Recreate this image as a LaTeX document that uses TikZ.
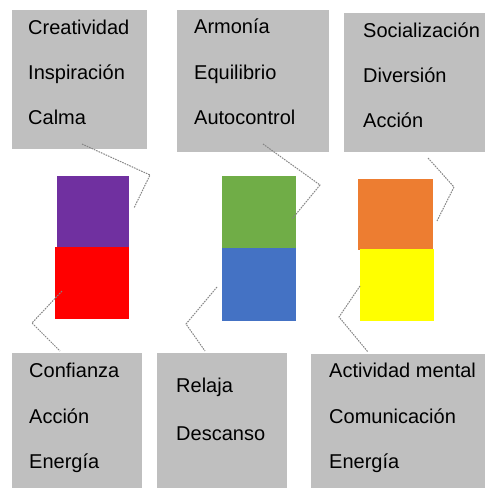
\documentclass[tikz,border=0pt]{standalone}
\usepackage{fontspec}
\setmainfont{Liberation Sans}
\definecolor{boxgray}{HTML}{BFBFBF}
\definecolor{cpurple}{HTML}{7030A0}
\definecolor{cred}{HTML}{FF0000}
\definecolor{cgreen}{HTML}{70AD47}
\definecolor{cblue}{HTML}{4472C4}
\definecolor{corange}{HTML}{ED7D31}
\definecolor{cyellow}{HTML}{FFFF00}
\definecolor{linkgray}{HTML}{858585}
\tikzset{
  graybox/.style={fill=boxgray, draw=none},
  swatch/.style={draw=none},
  word/.style={anchor=base west, inner sep=0pt, font=\fontsize{20}{23}\selectfont, text=black},
  link/.style={draw=linkgray, line width=1pt, dash pattern=on 1.6pt off 1pt}
}
\begin{document}
\begin{tikzpicture}[x=1pt,y=-1pt]
\useasboundingbox (0,0) rectangle (485,489);
% top gray boxes
\fill[graybox] (12,10) rectangle (147,149);
\fill[graybox] (177,10) rectangle (329,152);
\fill[graybox] (344,13) rectangle (485,152);
% bottom gray boxes
\fill[graybox] (12,353) rectangle (142,488);
\fill[graybox] (157,353) rectangle (287,488);
\fill[graybox] (311,354) rectangle (485,488);
% colour squares
\fill[cpurple] (57,176) rectangle (129,247);
\fill[cred] (55,247) rectangle (129,319);
\fill[cgreen] (222,176) rectangle (296,248);
\fill[cblue] (222,248) rectangle (296,321);
\fill[corange] (358,179) rectangle (433,250);
\fill[cyellow] (360,249) rectangle (434,321);
% texts
\node[word] (t1a) at (28,35) {Creatividad};
\node[word] (t1b) at (28,80) {Inspiración};
\node[word] (t1c) at (28,125) {Calma};
\node[word] (t2a) at (194,34) {Armonía};
\node[word] (t2b) at (194,80) {Equilibrio};
\node[word] (t2c) at (194,125) {Autocontrol};
\node[word] (t3a) at (363,38) {Socialización};
\node[word] (t3b) at (363,83) {Diversión};
\node[word] (t3c) at (363,128) {Acción};
\node[word] (t4a) at (29,377) {Confianza};
\node[word] (t4b) at (29,423) {Acción};
\node[word] (t4c) at (29,468) {Energía};
\node[word] (t5a) at (176,392) {Relaja};
\node[word] (t5b) at (176,440) {Descanso};
\node[word] (t6a) at (329,377) {Actividad mental};
\node[word] (t6b) at (329,423) {Comunicación};
\node[word] (t6c) at (329,468) {Energía};
% connector points
\coordinate (a1) at (82,144); \coordinate (b1) at (150,175); \coordinate (c1) at (134,208);
\coordinate (a2) at (263,144); \coordinate (b2) at (320,185); \coordinate (c2) at (292,219);
\coordinate (a3) at (428,158); \coordinate (b3) at (454,187); \coordinate (c3) at (437,221);
\coordinate (a4) at (62,291); \coordinate (b4) at (32,323); \coordinate (c4) at (60,351);
\coordinate (a5) at (217,287); \coordinate (b5) at (186,324); \coordinate (c5) at (205,351);
\coordinate (a6) at (360,286); \coordinate (b6) at (339,317); \coordinate (c6) at (368,352);
\draw[link] (a1) -- (b1) -- (c1);
\draw[link] (a2) -- (b2) -- (c2);
\draw[link] (a3) -- (b3) -- (c3);
\draw[link] (a4) -- (b4) -- (c4);
\draw[link] (a5) -- (b5) -- (c5);
\draw[link] (a6) -- (b6) -- (c6);
\end{tikzpicture}
\end{document}
